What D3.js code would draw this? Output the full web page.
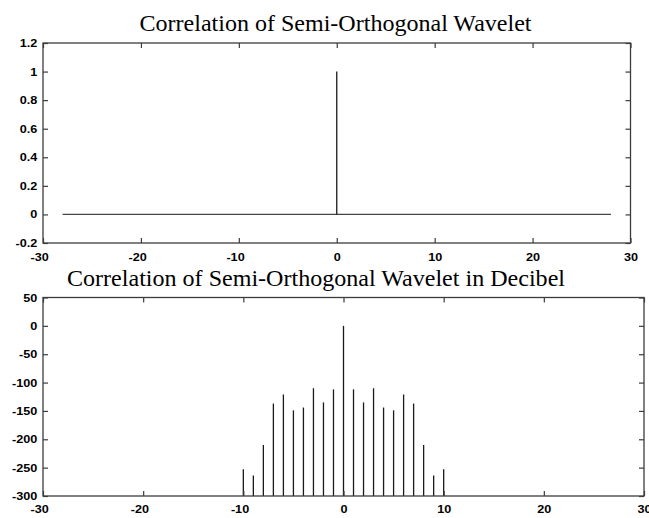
<!DOCTYPE html>
<html><head><meta charset="utf-8">
<script src="https://cdn.jsdelivr.net/npm/d3@7"></script>
<style>body{margin:0;background:#fff} svg{display:block}</style>
</head><body><svg id="c" width="649" height="518"></svg>
<script>
const xTicks = [-30, -20, -10, 0, 10, 20, 30];
const corrYTicks = [-0.2, 0, 0.2, 0.4, 0.6, 0.8, 1, 1.2];
const dbYTicks = [-300, -250, -200, -150, -100, -50, 0, 50];

const corrLags = [-28,-27,-26,-25,-24,-23,-22,-21,-20,-19,-18,-17,-16,-15,-14,-13,-12,-11,-10,-9,-8,-7,-6,-5,-4,-3,-2,-1,0,
  1,2,3,4,5,6,7,8,9,10,11,12,13,14,15,16,17,18,19,20,21,22,23,24,25,26,27,28];
const corrValues = [0,0,0,0,0,0,0,0,0,0,0,0,0,0,0,0,0,0,0,0,0,0,0,0,0,0,0,0,1,
  0,0,0,0,0,0,0,0,0,0,0,0,0,0,0,0,0,0,0,0,0,0,0,0,0,0,0,0];

const dbLags = [-10,-9,-8,-7,-6,-5,-4,-3,-2,-1,0,1,2,3,4,5,6,7,8,9,10];
const dbValues = [-253,-264,-210,-137,-121,-149,-144,-110,-135,-112,0,-112,-135,-110,-144,-149,-121,-137,-210,-264,-253];

const titleTop = "Correlation of Semi-Orthogonal Wavelet";
const titleBottom = "Correlation of Semi-Orthogonal Wavelet in Decibel";

const svg = d3.select("#c");
const frameColor = "#3c3c3c";
const dataColor = "#1a1a1a";
const fmt = d => String(d);

function panel(cfg) {
  const g = svg.append("g");
  const x = d3.scaleLinear().domain([-30, 30]).range([cfg.l, cfg.r]);
  const y = d3.scaleLinear().domain(cfg.yDomain).range([cfg.b, cfg.t]);

  // data
  if (cfg.baseline) {
    g.append("line")
      .attr("x1", x(d3.min(cfg.lags))).attr("x2", x(d3.max(cfg.lags)))
      .attr("y1", y(cfg.base)).attr("y2", y(cfg.base))
      .attr("stroke", "#444").attr("stroke-width", 1.3);
  }
  g.selectAll("line.stem").data(cfg.lags.map((l, i) => [l, cfg.values[i]]))
    .join("line").attr("class", "stem")
    .attr("x1", d => x(d[0])).attr("x2", d => x(d[0]))
    .attr("y1", y(cfg.base)).attr("y2", d => y(d[1]))
    .attr("stroke", dataColor).attr("stroke-width", 1.3);

  // axes
  const styleAxis = (sel, labels) => {
    sel.select(".domain").remove();
    sel.selectAll(".tick line").attr("stroke", frameColor).attr("stroke-width", 1.2);
    sel.selectAll(".tick text")
      .attr("fill", "#000")
      .style("font-family", "'Liberation Sans', Arial, sans-serif")
      .style("font-weight", "bold")
      .style("font-size", "11px");
    if (!labels) sel.selectAll(".tick text").remove();
  };
  const left = g.append("g").attr("transform", `translate(${cfg.l},0)`)
    .call(d3.axisLeft(y).tickValues(cfg.yTicks).tickFormat(fmt).tickSizeInner(-5).tickSizeOuter(0).tickPadding(5));
  styleAxis(left, true);
  left.selectAll(".tick text").attr("transform", "scale(1.15,1)");
  const right = g.append("g").attr("transform", `translate(${cfg.r},0)`)
    .call(d3.axisRight(y).tickValues(cfg.yTicks).tickSizeInner(-5).tickSizeOuter(0));
  styleAxis(right, false);
  const bottom = g.append("g").attr("transform", `translate(0,${cfg.b})`)
    .call(d3.axisBottom(x).tickValues(xTicks).tickFormat(fmt).tickSizeInner(-5).tickSizeOuter(0).tickPadding(cfg.xPad));
  styleAxis(bottom, true);
  bottom.selectAll(".tick text")
    .attr("transform", "scale(1.15,1)")
    .attr("dx", d => d < 0 ? "-0.3em" : 0);
  const top = g.append("g").attr("transform", `translate(0,${cfg.t})`)
    .call(d3.axisTop(x).tickValues(xTicks).tickSizeInner(-5).tickSizeOuter(0));
  styleAxis(top, false);

  // frame
  g.append("rect").attr("x", cfg.l).attr("y", cfg.t)
    .attr("width", cfg.r - cfg.l).attr("height", cfg.b - cfg.t)
    .attr("fill", "none").attr("stroke", frameColor).attr("stroke-width", 1.3);

  // title
  g.append("text").attr("x", cfg.titleX).attr("y", cfg.titleY)
    .attr("textLength", cfg.titleW).attr("lengthAdjust", "spacingAndGlyphs")
    .style("font-family", "'Liberation Serif', 'Times New Roman', serif")
    .style("font-size", "23px").attr("fill", "#000")
    .text(cfg.title);
}

panel({
  l: 43, r: 630.5, t: 43, b: 243,
  yDomain: [-0.2, 1.2], yTicks: corrYTicks,
  lags: corrLags, values: corrValues, base: 0, baseline: true,
  xPad: 10, title: titleTop, titleX: 139.5, titleY: 30.5, titleW: 392
});
panel({
  l: 43, r: 644, t: 297.5, b: 496,
  yDomain: [-300, 50], yTicks: dbYTicks,
  lags: dbLags, values: dbValues, base: -300, baseline: false,
  xPad: 9, title: titleBottom, titleX: 67, titleY: 285.5, titleW: 498
});
</script></body></html>
